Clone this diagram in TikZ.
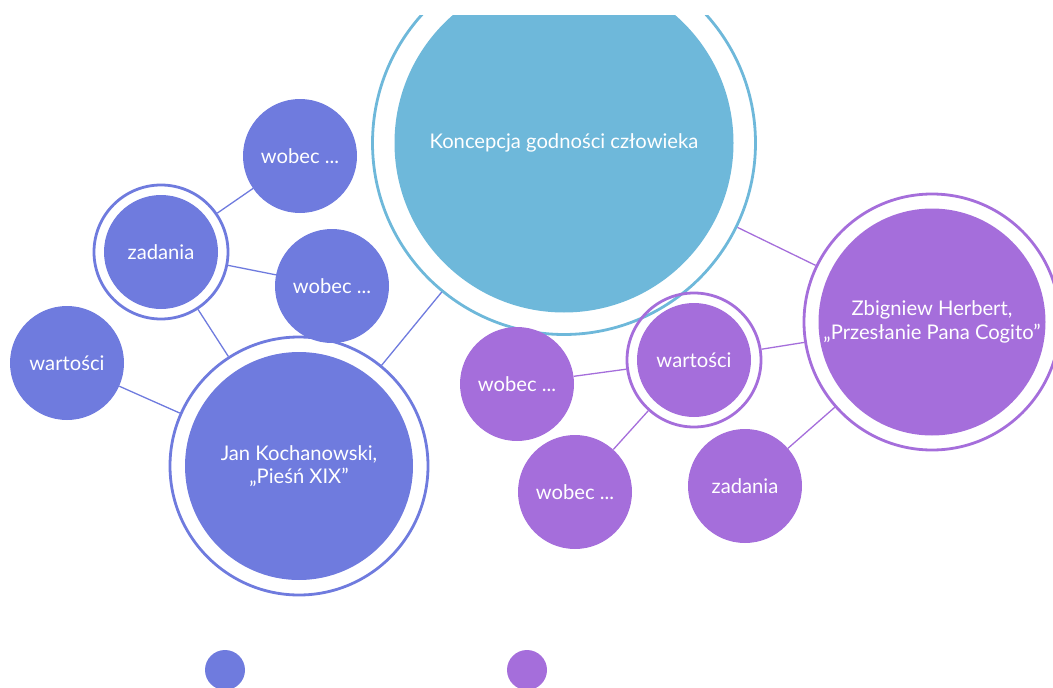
\documentclass[tikz,border=0pt]{standalone}
\usepackage{fontspec}
\setmainfont{Lato}
\definecolor{cblue}{HTML}{6F7BDE}
\definecolor{cpurp}{HTML}{A56EDB}
\definecolor{clight}{HTML}{6EB8DA}
\tikzset{
  bub/.style={circle, inner sep=0pt, minimum size=#1, text=white, align=center,
    font=\fontsize{20.2}{23.5}\selectfont},
  ringc/.style={circle, draw, line width=2.8pt, inner sep=0pt, minimum size=#1},
  conn/.style={line width=1.3pt},
  dot/.style={circle, inner sep=0pt, minimum size=40pt}
}
\begin{document}
\begin{tikzpicture}[x=1pt,y=-1pt]
\useasboundingbox (0,0) rectangle (1053,688);
\begin{scope}
\clip (0,15) rectangle (1053,688);
% rings
\node[ringc=383pt, draw=clight] (konR) at (564,143) {};
\node[ringc=258pt, draw=cblue] (kochR) at (299,466) {};
\node[ringc=134pt, draw=cblue] (zadR) at (161,252) {};
\node[ringc=256pt, draw=cpurp] (herbR) at (932,322) {};
\node[ringc=134pt, draw=cpurp] (warPR) at (694,360) {};
% bubbles
\node[bub=339pt, fill=clight] (kon) at (564,143) {Koncepcja godności człowieka};
\node[bub=228pt, fill=cblue] (koch) at (299,466) {Jan Kochanowski,\\„Pieśń XIX”};
\node[bub=114pt, fill=cblue] (zad) at (161,252) {zadania};
\node[bub=114pt, fill=cblue] (warB) at (67,363) {wartości};
\node[bub=114pt, fill=cblue] (wobB1) at (300,156) {wobec ...};
\node[bub=114pt, fill=cblue] (wobB2) at (332,286) {wobec ...};
\node[bub=227pt, fill=cpurp] (herb) at (932,322) {Zbigniew Herbert,\\„Przesłanie Pana Cogito”};
\node[bub=114pt, fill=cpurp] (warP) at (694,360) {wartości};
\node[bub=114pt, fill=cpurp] (wobP1) at (517,384) {wobec ...};
\node[bub=114pt, fill=cpurp] (wobP2) at (575,492) {wobec ...};
\node[bub=114pt, fill=cpurp] (zadP) at (745,486) {zadania};
% connectors
\draw[conn, cblue] (konR) -- (kochR);
\draw[conn, cpurp] (konR) -- (herbR);
\draw[conn, cblue] (kochR) -- (zadR);
\draw[conn, cblue] (kochR) -- (warB);
\draw[conn, cblue] (zadR) -- (wobB1);
\draw[conn, cblue] (zadR) -- (wobB2);
\draw[conn, cpurp] (herbR) -- (warPR);
\draw[conn, cpurp] (herbR) -- (zadP);
\draw[conn, cpurp] (warPR) -- (wobP1);
\draw[conn, cpurp] (warPR) -- (wobP2);
% legend dots
\node[dot, fill=cblue] (legB) at (225,670) {};
\node[dot, fill=cpurp] (legP) at (527,670) {};
\end{scope}
\end{tikzpicture}
\end{document}
